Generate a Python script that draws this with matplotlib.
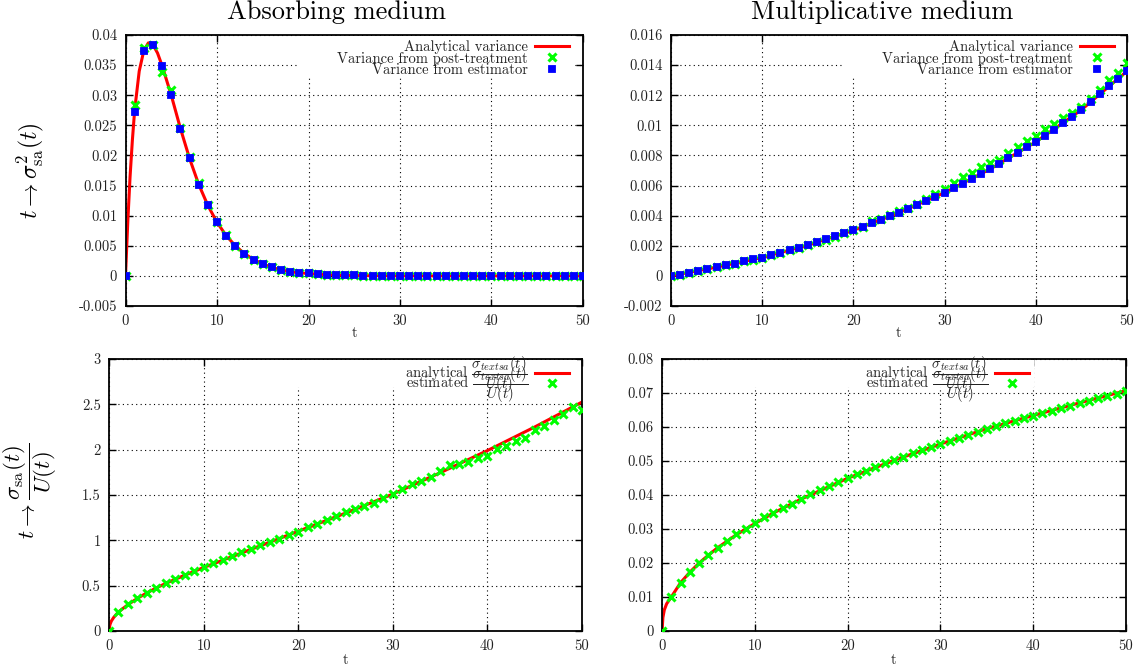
import numpy as np
import matplotlib
matplotlib.use("Agg")
import matplotlib.pyplot as plt
from matplotlib.ticker import FuncFormatter, MultipleLocator
from matplotlib.patches import Rectangle

plt.rcParams['font.family'] = 'cmr10'
plt.rcParams['mathtext.fontset'] = 'cm'
plt.rcParams['axes.unicode_minus'] = False

# ---------------- data ----------------
t_pts = np.arange(0, 51)

# Absorbing medium (variance)
abs_an_t = [0, 0.25, 0.5, 0.75, 1, 1.5, 2, 2.5, 3, 3.5, 4, 5, 6, 7, 8, 9, 10, 11, 12, 13,
            14, 15, 16, 17, 18, 19, 20, 22, 25, 30, 40, 50]
abs_an_v = [0, 0.0090, 0.0165, 0.0225, 0.0275, 0.0340, 0.0374, 0.0387, 0.0384, 0.0370, 0.0349,
            0.0300, 0.0245, 0.0195, 0.0152, 0.0117, 0.0089, 0.0067, 0.0050, 0.0037,
            0.0027, 0.0020, 0.0014, 0.0010, 0.0007, 0.0005, 0.0004, 0.0002, 0.00005, 0.0, 0.0, 0.0]
abs_post = [0, 0.0283, 0.0378, 0.0384, 0.0339, 0.0309, 0.0245, 0.0197, 0.0154, 0.0118,
            0.0090, 0.0068, 0.0050, 0.0037, 0.0027, 0.0020, 0.0014, 0.0010, 0.0007, 0.0005,
            0.0004, 0.0003, 0.0002, 0.00015, 0.0001, 0.00007, 0.00005, 0.00003, 0.00002, 0.00001,
            0, 0, 0, 0, 0, 0, 0, 0, 0, 0,
            0, 0, 0, 0, 0, 0, 0, 0, 0, 0, 0]
abs_est = [0, 0.0272, 0.0374, 0.0383, 0.0349, 0.0300, 0.0244, 0.0195, 0.0151, 0.0117,
           0.0089, 0.0067, 0.0050, 0.0037, 0.0027, 0.0020, 0.0014, 0.0010, 0.0007, 0.0005,
           0.0004, 0.0003, 0.0002, 0.00015, 0.0001, 0.00007, 0.00005, 0.00003, 0.00002, 0.00001,
           0, 0, 0, 0, 0, 0, 0, 0, 0, 0,
           0, 0, 0, 0, 0, 0, 0, 0, 0, 0, 0]

# Multiplicative medium (variance)
mul_an_t = [0, 5, 10, 15, 20, 25, 30, 35, 40, 45, 50]
mul_an_v = [0, 0.00058, 0.00122, 0.00204, 0.00303, 0.00420, 0.00553, 0.00710, 0.00890, 0.01103, 0.01360]
mul_post = [0, 0.00009, 0.0002, 0.0003, 0.00044, 0.00058, 0.0007, 0.00082, 0.00096, 0.00108,
            0.00122, 0.00138, 0.00153, 0.00169, 0.00187, 0.00204, 0.00222, 0.00238, 0.00260, 0.00282,
            0.00304, 0.00326, 0.00362, 0.00380, 0.00405, 0.00428, 0.00452, 0.00480, 0.00510, 0.00547,
            0.00580, 0.00618, 0.00658, 0.00684, 0.00720, 0.00747, 0.00773, 0.00813, 0.00858, 0.00893,
            0.00929, 0.00973, 0.01009, 0.01051, 0.01080, 0.01120, 0.01178, 0.01236, 0.01298, 0.01350,
            0.01413]
mul_est = [0, 0.00009, 0.0002, 0.0003, 0.00044, 0.00058, 0.0007, 0.00082, 0.00096, 0.0011,
           0.00122, 0.00138, 0.00153, 0.00169, 0.00187, 0.00204, 0.00222, 0.00242, 0.00262, 0.00282,
           0.00304, 0.00324, 0.00349, 0.00371, 0.00396, 0.0042, 0.00444, 0.00471, 0.00498, 0.00524,
           0.00553, 0.00582, 0.00613, 0.00644, 0.00678, 0.00711, 0.00744, 0.0078, 0.00816, 0.00853,
           0.00891, 0.00929, 0.00971, 0.01013, 0.01058, 0.01104, 0.01156, 0.01207, 0.0126, 0.01309,
           0.01362]

# Absorbing medium (ratio)
rabs_an_t = [0, 0.1, 0.25, 0.5, 0.75, 1, 2, 3, 4, 5, 6, 8, 10, 12, 15, 20, 25, 30, 35, 40, 45, 50]
rabs_an_v = [0, 0.07, 0.11, 0.15, 0.18, 0.21, 0.29, 0.36, 0.42, 0.475, 0.525, 0.615, 0.70, 0.78,
             0.90, 1.10, 1.30, 1.51, 1.745, 1.99, 2.25, 2.525]
rabs_est = [0, 0.206, 0.294, 0.36, 0.419, 0.477, 0.525, 0.573, 0.617, 0.661,
            0.701, 0.745, 0.786, 0.826, 0.867, 0.903, 0.947, 0.984, 1.017, 1.058,
            1.094, 1.142, 1.179, 1.219, 1.267, 1.315, 1.344, 1.381, 1.41, 1.462,
            1.506, 1.564, 1.62, 1.653, 1.70, 1.767, 1.829, 1.84, 1.866, 1.913,
            1.935, 2.005, 2.042, 2.093, 2.134, 2.222, 2.262, 2.332, 2.398, 2.471,
            2.435]

# Multiplicative medium (ratio)
rmul_an_t = [0, 0.1, 0.25, 0.5, 1, 2, 3, 4, 5, 6, 8, 10, 12, 15, 20, 25, 30, 35, 40, 45, 50]
rmul_an_v = [0, 0.004, 0.0062, 0.008, 0.0100, 0.0142, 0.0173, 0.0200, 0.0223, 0.0245, 0.0283,
             0.0316, 0.0347, 0.0388, 0.0449, 0.0502, 0.0550, 0.0595, 0.0634, 0.0671, 0.0707]
rmul_est = [0, 0.0101, 0.0142, 0.0173, 0.0199, 0.0223, 0.0244, 0.0264, 0.0284, 0.0300,
            0.0317, 0.0334, 0.0347, 0.0361, 0.0375, 0.0389, 0.0402, 0.0414, 0.0427, 0.0439,
            0.0450, 0.0461, 0.0472, 0.0483, 0.0493, 0.0503, 0.0513, 0.0523, 0.0532, 0.0542,
            0.0551, 0.0560, 0.0569, 0.0577, 0.0586, 0.0595, 0.0603, 0.0611, 0.0619, 0.0626,
            0.0633, 0.0641, 0.0648, 0.0655, 0.0663, 0.0670, 0.0677, 0.0684, 0.0691, 0.0698,
            0.0707]

titles = ["Absorbing medium", "Multiplicative medium"]
lab_an = "Analytical variance"
lab_post = "Variance from post-treatment"
lab_est = "Variance from estimator"
lab_ran = r"analytical $\dfrac{\sigma_{textsa}(t)}{U(t)}$"
lab_rest = r"estimated $\dfrac{\sigma_{textsa}(t)}{U(t)}$"
ylab_top = r"$t \rightarrow \sigma^2_{\rm sa}(t)$"
ylab_bot = r"$t \rightarrow \dfrac{\sigma_{\rm sa}(t)}{U(t)}$"

# ---------------- figure ----------------
W, H = 1143, 670
fig = plt.figure(figsize=(W / 100, H / 100), dpi=100)

RED = "#ff0000"
GREEN = "#00ff00"
BLUE = "#0000ff"
TXT = "#222222"
FS = 10.5
FS_PX = FS * 100 / 72


def add_ax(box):
    l, r, t, b = box
    return fig.add_axes([l / W, 1 - b / H, (r - l) / W, (b - t) / H])


def style(ax, ylim, ystep):
    ax.set_xlim(0, 50)
    ax.set_ylim(*ylim)
    ax.xaxis.set_major_locator(MultipleLocator(10))
    ax.yaxis.set_major_locator(MultipleLocator(ystep))
    ax.yaxis.set_major_formatter(FuncFormatter(
        lambda v, p: ("%g" % round(v, 6)) if abs(v) > 1e-12 else "0"))
    ax.xaxis.set_major_formatter(FuncFormatter(lambda v, p: "%g" % v))
    ax.grid(True, color="black", linestyle=(0, (1, 3)), linewidth=0.8)
    ax.set_axisbelow(True)
    ax.tick_params(direction="in", top=True, right=True, length=5, width=1,
                   labelsize=FS, pad=6, colors="black", labelcolor=TXT)
    for s in ax.spines.values():
        s.set_linewidth(1.3)


def key_box(ax, x0, x1, y0, y1):
    ax.add_patch(Rectangle((x0 / W, 1 - y1 / H), (x1 - x0) / W, (y1 - y0) / H,
                           transform=fig.transFigure, facecolor="white",
                           edgecolor="none", zorder=1))


def legend(ax, xr, yt, pitch):
    def make(sp):
        lg = ax.legend(loc="upper right", bbox_to_anchor=(xr / W, 1 - yt / H),
                       bbox_transform=fig.transFigure, markerfirst=False, fontsize=FS,
                       frameon=False, borderpad=0.0, borderaxespad=0,
                       handlelength=2.3, handletextpad=0.5, labelspacing=sp)
        for tx in lg.get_texts():
            tx.set_color(TXT)
        return lg
    lg = make(0.0)
    fig.canvas.draw()
    ex = [tx.get_window_extent() for tx in lg.get_texts()]
    d0 = ex[0].y0 - ex[1].y0
    lg.remove()
    return make((pitch - d0) / FS_PX)


mk_post = dict(marker="x", ms=6, mew=2.2, color=GREEN, ls="none")
mk_est = dict(marker="s", ms=5, mew=1.3, color=BLUE, ls="none")

B1 = (125.5, 583, 35, 306)
B2 = (671, 1127, 35, 306)
B3 = (109, 582, 359, 631)
B4 = (662, 1126, 359, 631)

# top-left
ax1 = add_ax(B1)
ax1.plot(abs_an_t, abs_an_v, color=RED, lw=2.2, label=lab_an, zorder=2)
ax1.plot(t_pts, abs_post, label=lab_post, zorder=3, **mk_post)
ax1.plot(t_pts, abs_est, label=lab_est, zorder=4, **mk_est)
style(ax1, (-0.005, 0.04), 0.005)
key_box(ax1, 299, 574, 36, 78)

# top-right
ax2 = add_ax(B2)
ax2.plot(mul_an_t, mul_an_v, color=RED, lw=2.2, label=lab_an, zorder=2)
ax2.plot(t_pts, mul_post, label=lab_post, zorder=3, **mk_post)
ax2.plot(t_pts, mul_est, label=lab_est, zorder=4, **mk_est)
style(ax2, (-0.002, 0.016), 0.002)
key_box(ax2, 844, 1119, 36, 78)

# bottom-left
ax3 = add_ax(B3)
ax3.plot(rabs_an_t, rabs_an_v, color=RED, lw=2.2, label=lab_ran, zorder=2)
ax3.plot(t_pts, rabs_est, label=lab_rest, zorder=3, **mk_post)
style(ax3, (0, 3), 0.5)
key_box(ax3, 241, 577, 360, 387)

# bottom-right
ax4 = add_ax(B4)
ax4.plot(rmul_an_t, rmul_an_v, color=RED, lw=2.2, label=lab_ran, zorder=2)
ax4.plot(t_pts, rmul_est, label=lab_rest, zorder=3, **mk_post)
style(ax4, (0, 0.08), 0.01)
key_box(ax4, 708, 1034, 360, 387)

# titles (centred near t = 23 as in the reference)
for ax, (l, r, t, b), ttl in zip((ax1, ax2), (B1, B2), titles):
    xc = l + 23.1 / 50 * (r - l)
    fig.text(xc / W, 1 - 19 / H, ttl, fontsize=19, ha="center", va="baseline", color="black")

for ax, (l, r, t, b), dy in zip((ax1, ax2, ax3, ax4), (B1, B2, B3, B4), (27, 27, 29, 29)):
    ax.set_xlabel("t", fontsize=FS, color=TXT)
    ax.xaxis.set_label_coords(0.5, -dy / (b - t))
    ax.xaxis.label.set_va("center")

ax1.set_ylabel(ylab_top, fontsize=17)
ax1.yaxis.set_label_coords((30 - B1[0]) / (B1[1] - B1[0]), 0.5)
ax1.yaxis.label.set_va("center")
ax3.set_ylabel(ylab_bot, fontsize=16.5)
ax3.yaxis.set_label_coords((30 - B3[0]) / (B3[1] - B3[0]), 0.515)
ax3.yaxis.label.set_va("center")

legend(ax1, 569, 40, 11.5)
legend(ax2, 1114, 40, 11.5)
legend(ax3, 569, 354, 10.7)
legend(ax4, 1029, 354, 10.7)

fig.savefig("out.png", dpi=100)
